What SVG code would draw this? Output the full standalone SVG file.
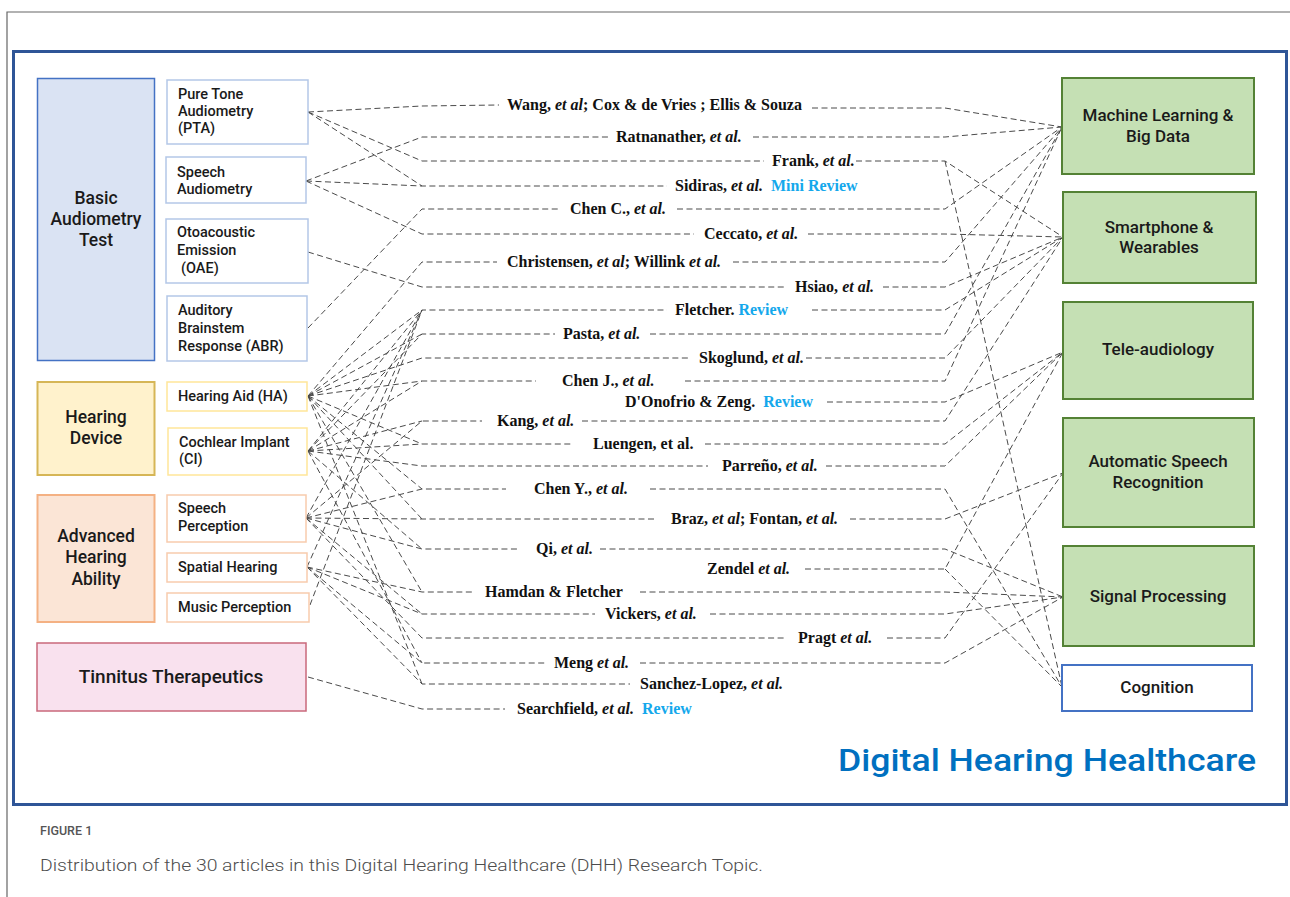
<svg xmlns="http://www.w3.org/2000/svg" width="1290" height="897" viewBox="0 0 1290 897">
<style>
.c{fill:none;stroke:#4a4a4a;stroke-width:1;stroke-dasharray:6 3.5}
.lab{font-family:"Liberation Serif","Times New Roman",serif;font-weight:bold;font-size:16px;fill:#111}
.i{font-style:italic}
.rv{fill:#14a8ec}
.nt{font-family:Roboto,"Noto Sans",sans-serif;font-weight:500;fill:#1a1a1a}
.s{font-size:14.5px}
.b{font-size:17.5px;text-anchor:middle}
.r{font-size:17px;text-anchor:middle}
.sub1{fill:#fff;stroke:#b4c7e7;stroke-width:1.5}
.sub2{fill:#fff;stroke:#ffe699;stroke-width:1.5}
.sub3{fill:#fff;stroke:#f8cbad;stroke-width:1.5}
.grn{fill:#c5e0b4;stroke:#548235;stroke-width:2}
</style>
<rect width="1290" height="897" fill="#fff"/>
<path d="M7 897 V12 H1290" fill="none" stroke="#666" stroke-width="1.2"/>
<rect x="13.5" y="51.5" width="1273" height="753" fill="#fff" stroke="#2f5597" stroke-width="3"/>

<g id="connectors">
<path class="c" d="M308,112 L422,106 L499,105 M812,108 H945 L1062,127"/>
<path class="c" d="M306,181 L422,137 H608 M753,137 H945 L1062,127"/>
<path class="c" d="M308,112 L422,161 H764 M856,161 H945 L1063,237 M945,161 L1062,687"/>
<path class="c" d="M308,112 L422,186 M306,181 L422,186 H667"/>
<path class="c" d="M308,328 L422,209 H560 M677,209 H945 L1062,127"/>
<path class="c" d="M306,181 L422,234 H694 M808,234 H945 L1063,237"/>
<path class="c" d="M308,396 L422,262 H497 M733,262 H945 L1062,127"/>
<path class="c" d="M308,252 L422,287 H787 M883,287 H945 L1063,237"/>
<path class="c" d="M308,396 L422,310 M308,451 L422,310 M306,518 L422,310 M307,567 L422,310 M310,605 L422,310 H667 M812,310 H945 L1063,237"/>
<path class="c" d="M308,396 L422,334 M308,451 L422,334 H555 M650,334 H945 L1062,127"/>
<path class="c" d="M308,396 L422,358 H691 M806,358 H945 L1063,237"/>
<path class="c" d="M308,396 L422,381 M308,451 L422,381 H536 M685,381 H945 L1062,127"/>
<path class="c" d="M827,402 H945 L1063,352"/>
<path class="c" d="M308,451 L422,421 M306,518 L422,421 H482 M582,421 H945 L1063,237"/>
<path class="c" d="M308,396 L422,444 M308,451 L422,444 H572 M705,444 H945 L1063,352"/>
<path class="c" d="M308,451 L422,466 H708 M826,466 H945 L1063,352"/>
<path class="c" d="M308,396 L422,489 M306,518 L422,489 H506 M650,489 H945 L1062,687"/>
<path class="c" d="M308,396 L422,519 M306,518 L422,519 H657 M850,519 H945 L1063,473"/>
<path class="c" d="M308,451 L422,549 M306,518 L422,549 H520 M600,549 H945 L1063,597"/>
<path class="c" d="M805,569 H945 L1063,352 M945,569 L1062,687"/>
<path class="c" d="M308,396 L422,592 M307,567 L422,592 H474 M640,592 H945 L1063,597"/>
<path class="c" d="M306,518 L422,614 M307,567 L422,614 H595 M710,614 H945 L1063,597"/>
<path class="c" d="M306,518 L422,638 H786 M887,638 H945 L1063,473"/>
<path class="c" d="M308,451 L422,663 M307,567 L422,663 H546 M640,663 H945 L1063,597"/>
<path class="c" d="M308,396 L422,684 M307,567 L422,684 H630"/>
<path class="c" d="M308,677 L422,709 H505"/>
</g>

<g id="labels">
<text class="lab" x="507" y="110">Wang, <tspan class="i">et al</tspan>; Cox &amp; de Vries ; Ellis &amp; Souza</text>
<text class="lab" x="616" y="142">Ratnanather, <tspan class="i">et al.</tspan></text>
<text class="lab" x="772" y="166">Frank, <tspan class="i">et al.</tspan></text>
<text class="lab" x="675" y="191">Sidiras, <tspan class="i">et al.</tspan><tspan class="rv" dx="8">Mini Review</tspan></text>
<text class="lab" x="570" y="214">Chen C., <tspan class="i">et al.</tspan></text>
<text class="lab" x="704" y="239">Ceccato, <tspan class="i">et al.</tspan></text>
<text class="lab" x="507" y="267">Christensen, <tspan class="i">et al</tspan>; Willink <tspan class="i">et al.</tspan></text>
<text class="lab" x="795" y="292">Hsiao, <tspan class="i">et al.</tspan></text>
<text class="lab" x="675" y="315">Fletcher. <tspan class="rv">Review</tspan></text>
<text class="lab" x="563" y="339">Pasta, <tspan class="i">et al.</tspan></text>
<text class="lab" x="699" y="363">Skoglund, <tspan class="i">et al.</tspan></text>
<text class="lab" x="562" y="386">Chen J., <tspan class="i">et al.</tspan></text>
<text class="lab" x="625" y="407">D'Onofrio &amp; Zeng.<tspan class="rv" dx="8">Review</tspan></text>
<text class="lab" x="497" y="426">Kang, <tspan class="i">et al.</tspan></text>
<text class="lab" x="593" y="449">Luengen, et al.</text>
<text class="lab" x="722" y="471">Parreño, <tspan class="i">et al.</tspan></text>
<text class="lab" x="534" y="494">Chen Y., <tspan class="i">et al.</tspan></text>
<text class="lab" x="671" y="524">Braz, <tspan class="i">et al</tspan>; Fontan, <tspan class="i">et al.</tspan></text>
<text class="lab" x="536" y="554">Qi, <tspan class="i">et al.</tspan></text>
<text class="lab" x="707" y="574">Zendel <tspan class="i">et al.</tspan></text>
<text class="lab" x="485" y="597">Hamdan &amp; Fletcher</text>
<text class="lab" x="605" y="619">Vickers, <tspan class="i">et al.</tspan></text>
<text class="lab" x="798" y="643">Pragt <tspan class="i">et al.</tspan></text>
<text class="lab" x="554" y="668">Meng <tspan class="i">et al.</tspan></text>
<text class="lab" x="640" y="689">Sanchez-Lopez, <tspan class="i">et al.</tspan></text>
<text class="lab" x="517" y="714">Searchfield, <tspan class="i">et al.</tspan><tspan class="rv" dx="8">Review</tspan></text>
</g>

<g id="basic-audiometry">
<rect x="37.5" y="78.5" width="117" height="282" fill="#dae3f3" stroke="#4472c4" stroke-width="1.5"/>
<text class="nt b" x="96" y="204">Basic</text>
<text class="nt b" x="96" y="225">Audiometry</text>
<text class="nt b" x="96" y="246">Test</text>
</g>
<g id="pta">
<rect class="sub1" x="167" y="80" width="141" height="64"/>
<text class="nt s" x="178" y="99">Pure Tone</text>
<text class="nt s" x="178" y="116">Audiometry</text>
<text class="nt s" x="178" y="133">(PTA)</text>
</g>
<g id="speech-audiometry">
<rect class="sub1" x="166" y="157" width="140" height="46"/>
<text class="nt s" x="177" y="177">Speech</text>
<text class="nt s" x="177" y="194">Audiometry</text>
</g>
<g id="oae">
<rect class="sub1" x="166" y="219" width="142" height="64"/>
<text class="nt s" x="177" y="237">Otoacoustic</text>
<text class="nt s" x="177" y="255">Emission</text>
<text class="nt s" x="181" y="273">(OAE)</text>
</g>
<g id="abr">
<rect class="sub1" x="167" y="296" width="140" height="65"/>
<text class="nt s" x="178" y="315">Auditory</text>
<text class="nt s" x="178" y="333">Brainstem</text>
<text class="nt s" x="178" y="351">Response (ABR)</text>
</g>

<g id="hearing-device">
<rect x="37.5" y="382" width="117" height="93" fill="#fff2cc" stroke="#d6b656" stroke-width="2"/>
<text class="nt b" x="96" y="423">Hearing</text>
<text class="nt b" x="96" y="444">Device</text>
</g>
<g id="hearing-aid">
<rect class="sub2" x="167" y="382" width="140" height="29"/>
<text class="nt s" x="178" y="401">Hearing Aid (HA)</text>
</g>
<g id="cochlear-implant">
<rect class="sub2" x="168" y="428" width="139" height="47"/>
<text class="nt s" x="179" y="447">Cochlear Implant</text>
<text class="nt s" x="179" y="464">(CI)</text>
</g>

<g id="advanced-hearing">
<rect x="37.5" y="495" width="117" height="127" fill="#fbe5d6" stroke="#f4b183" stroke-width="2"/>
<text class="nt b" x="96" y="542">Advanced</text>
<text class="nt b" x="96" y="563">Hearing</text>
<text class="nt b" x="96" y="585">Ability</text>
</g>
<g id="speech-perception">
<rect class="sub3" x="167" y="495" width="139" height="47"/>
<text class="nt s" x="178" y="513">Speech</text>
<text class="nt s" x="178" y="531">Perception</text>
</g>
<g id="spatial-hearing">
<rect class="sub3" x="167" y="553" width="140" height="29"/>
<text class="nt s" x="178" y="572">Spatial Hearing</text>
</g>
<g id="music-perception">
<rect class="sub3" x="167" y="593" width="142" height="29"/>
<text class="nt s" x="178" y="612">Music Perception</text>
</g>

<g id="tinnitus">
<rect x="37" y="643" width="269" height="68" fill="#f9e1ee" stroke="#c9687b" stroke-width="1.5"/>
<text class="nt" x="171" y="683" font-size="19" text-anchor="middle">Tinnitus Therapeutics</text>
</g>

<g id="ml">
<rect class="grn" x="1062" y="78" width="192" height="96"/>
<text class="nt r" x="1158" y="121">Machine Learning &amp;</text>
<text class="nt r" x="1158" y="142">Big Data</text>
</g>
<g id="smartphone">
<rect class="grn" x="1063" y="192" width="193" height="91"/>
<text class="nt r" x="1159" y="233">Smartphone &amp;</text>
<text class="nt r" x="1159" y="253">Wearables</text>
</g>
<g id="tele">
<rect class="grn" x="1063" y="302" width="190" height="97"/>
<text class="nt r" x="1158" y="355">Tele-audiology</text>
</g>
<g id="asr">
<rect class="grn" x="1063" y="418" width="191" height="109"/>
<text class="nt r" x="1158" y="467">Automatic Speech</text>
<text class="nt r" x="1158" y="488">Recognition</text>
</g>
<g id="signal-processing">
<rect class="grn" x="1063" y="546" width="191" height="100"/>
<text class="nt r" x="1158" y="602">Signal Processing</text>
</g>
<g id="cognition">
<rect x="1062" y="665" width="190" height="46" fill="#fff" stroke="#4472c4" stroke-width="2"/>
<text class="nt r" x="1157" y="693">Cognition</text>
</g>

<text x="838" y="771" font-family="Roboto,'Noto Sans',sans-serif" font-weight="500" font-size="32" fill="#0070c0" textLength="418" lengthAdjust="spacingAndGlyphs">Digital Hearing Healthcare</text>
<text x="40" y="835" font-family="Roboto,'Noto Sans',sans-serif" font-weight="500" font-size="12.5" fill="#555">FIGURE 1</text>
<text x="40" y="871" font-family="Roboto,'Noto Sans',sans-serif" font-weight="300" font-size="17" fill="#4d4d4d" textLength="723" lengthAdjust="spacingAndGlyphs">Distribution of the 30 articles in this Digital Hearing Healthcare (DHH) Research Topic.</text>
</svg>
